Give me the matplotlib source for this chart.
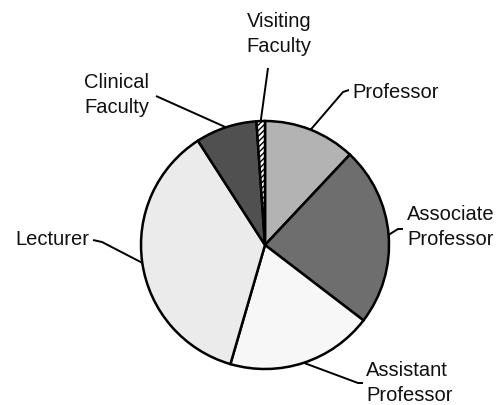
import numpy as np
import matplotlib
matplotlib.use("Agg")
import matplotlib.pyplot as plt

plt.rcParams["font.family"] = ["Liberation Sans", "DejaVu Sans"]

CATEGORIES = ["Professor", "Associate\nProfessor", "Assistant\nProfessor",
              "Lecturer", "Clinical\nFaculty", "Visiting\nFaculty"]
SHARES     = [12.0, 23.4, 19.1, 36.4, 8.0, 1.1]   # percent
COLORS     = ["#b3b3b3", "#6e6e6e", "#f7f7f7", "#ebebeb", "#505050", "#ffffff"]
HATCHES    = [None, None, None, None, None, "//////"]

W, H = 502, 405
CENTER = (265, H - 245)
RADIUS = 124

# label anchor (text pos, alignment, elbow points of the leader in pixel space, y down)
LABELS = [
    dict(xy=(352, 92),  ha="left",   elbow=[(343, 92), (349, 90)]),
    dict(xy=(407, 227), ha="left",   elbow=[(398, 229), (403, 229)]),
    dict(xy=(366, 383), ha="left",   elbow=[(358, 383), (363, 383)]),
    dict(xy=(89, 240),  ha="right",  elbow=[(102, 242), (93, 240)]),
    dict(xy=(117, 95),  ha="center", elbow=[(156, 96)]),
    dict(xy=(279, 34),  ha="center", elbow=[(268, 68)]),
]

fig = plt.figure(figsize=(W / 100, H / 100), dpi=100)
ax = fig.add_axes([0, 0, 1, 1])

wedges, _ = ax.pie(SHARES, colors=COLORS, startangle=90, counterclock=False,
                   center=CENTER, radius=RADIUS, frame=True,
                   wedgeprops=dict(edgecolor="black", linewidth=1.8))
for w, h in zip(wedges, HATCHES):
    if h:
        w.set_hatch(h)

for w, lab, name in zip(wedges, LABELS, CATEGORIES):
    mid = np.deg2rad((w.theta1 + w.theta2) / 2)
    px = CENTER[0] + RADIUS * np.cos(mid)
    py = CENTER[1] + RADIUS * np.sin(mid)
    pts = [(px, py)] + [(x, H - y) for x, y in lab["elbow"]]
    xs, ys = zip(*pts)
    ax.plot(xs, ys, color="black", lw=1.4, solid_capstyle="butt")
    ax.text(lab["xy"][0], H - lab["xy"][1], name, ha=lab["ha"], va="center",
            fontsize=14.5, linespacing=1.4, color="#111111")

ax.set_xlim(0, W); ax.set_ylim(0, H)
ax.set_aspect("equal", adjustable="box")
ax.axis("off")

fig.savefig("out.png", dpi=100)
